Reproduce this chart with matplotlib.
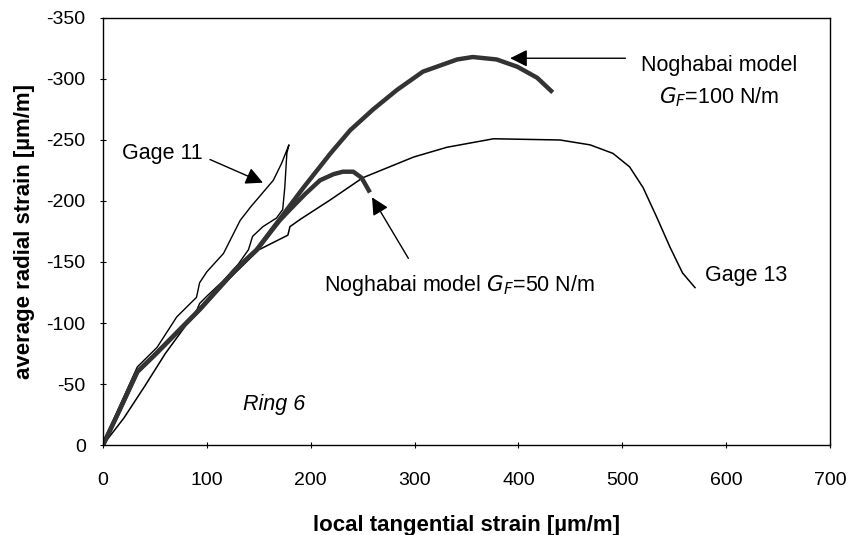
import numpy as np
import matplotlib.pyplot as plt

plt.rcParams['font.family'] = ['Liberation Sans', 'DejaVu Sans']
plt.rcParams['axes.unicode_minus'] = False

# Noghabai model, G_F = 100 N/m
nog100_x = [0, 15, 33, 50, 93, 129, 148, 193, 219, 238, 260, 283, 308, 341, 356, 379, 399, 418, 433]
nog100_y = [0, -27, -60, -74, -111, -145, -160, -211, -239, -258, -275, -291, -306, -316, -318, -316, -310, -301, -289]

# Noghabai model, G_F = 50 N/m
nog50_x = [0, 15, 33, 50, 93, 129, 148, 170, 180, 195, 209, 222, 231, 241, 249, 257]
nog50_y = [0, -27, -60, -74, -111, -145, -160, -184, -193, -206, -217, -222, -224, -224, -219, -207]

# Gage 13
g13_x = [0, 20, 40, 60, 90, 120, 150, 178, 180, 190, 219, 250, 299, 331, 376, 440, 469, 491, 507, 520, 533, 546, 558, 570]
g13_y = [0, -22, -48, -75, -110, -135, -160, -172, -179, -185, -201, -219, -236, -244, -251, -250, -246, -239, -228, -211, -187, -162, -141, -129]

# Gage 11 (up and back)
g11_x = [0, 15, 33, 52, 71, 84, 90, 93, 100, 116, 132, 142, 154, 164, 172, 179,
         177, 175, 173, 167, 154, 144, 140, 130, 115, 100, 93, 90, 88]
g11_y = [0, -30, -64, -80, -105, -116, -121, -133, -142, -157, -184, -195, -207, -217, -231, -246,
         -239, -211, -193, -186, -179, -171, -160, -148, -134, -122, -116, -110, -106]

fig, ax = plt.subplots(figsize=(8.5, 5.35), dpi=100)
fig.subplots_adjust(left=0.1212, right=0.9765, bottom=0.1682, top=0.9664)

ax.plot(g13_x, g13_y, color='black', lw=1.1)
ax.plot(g11_x, g11_y, color='black', lw=1.0)
ax.plot(nog100_x, nog100_y, color='#333333', lw=3.2, solid_capstyle='butt')
ax.plot(nog50_x, nog50_y, color='#333333', lw=3.2, solid_capstyle='butt')

ax.set_xlim(0, 700)
ax.set_ylim(0, -350)
ax.set_xticks(np.arange(0, 701, 100))
ax.set_yticks(np.arange(0, -351, -50))
ax.tick_params(direction='inout', length=5, width=0.8, labelsize=14)
ax.tick_params(axis='x', pad=17)
ax.tick_params(axis='y', pad=10)
for s in ax.spines.values():
    s.set_linewidth(1.0)

ax.set_xlabel('local tangential strain [µm/m]', fontsize=16, fontweight='bold', labelpad=19)
ax.set_ylabel('average radial strain [µm/m]', fontsize=16, fontweight='bold', labelpad=8)

arr = dict(arrowstyle='-|>', mutation_scale=26, lw=1.0, color='black', shrinkA=0, shrinkB=0)
fs = 15.5

ax.text(57, -239, 'Gage 11', fontsize=fs, ha='center', va='center')
ax.annotate('', xy=(154, -215), xytext=(103, -234), arrowprops=arr)

ax.text(593, -311, 'Noghabai model', fontsize=fs, ha='center', va='center')
ax.text(593, -285, '$G_F$=100 N/m', fontsize=fs, ha='center', va='center')
ax.annotate('', xy=(392, -317), xytext=(503, -317), arrowprops=arr)

ax.text(343, -131, 'Noghabai model $G_F$=50 N/m', fontsize=fs, ha='center', va='center')
ax.annotate('', xy=(259, -203), xytext=(294, -153), arrowprops=arr)

ax.text(580, -139, 'Gage 13', fontsize=fs, ha='left', va='center')
ax.text(165, -33, 'Ring 6', fontsize=fs, ha='center', va='center', style='italic')

plt.savefig('out.png', dpi=100)
